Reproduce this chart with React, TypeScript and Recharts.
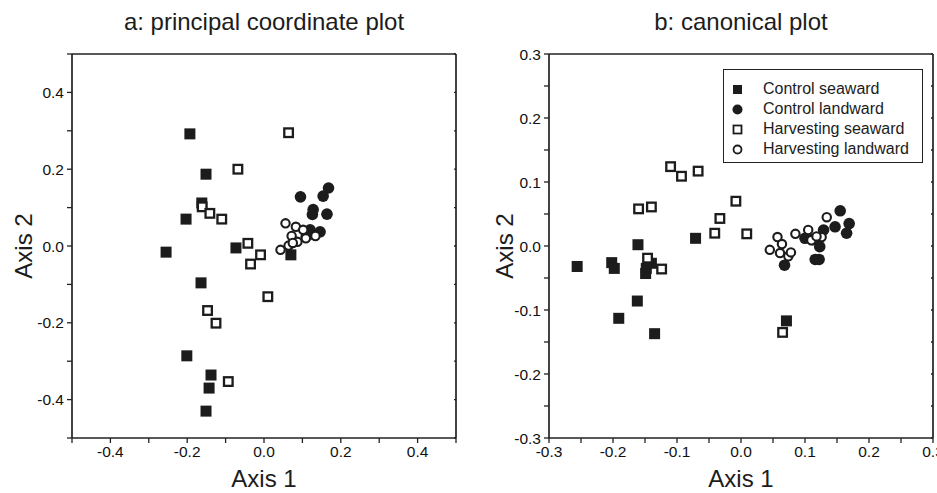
import React from 'react';
import { ScatterChart, Scatter, XAxis, YAxis, Legend, Label } from 'recharts';

const FONT = '"Liberation Sans", Arial, Helvetica, sans-serif';
const INK = '#1c1c1c';
const AXIS = '#222';

// ---------- Panel a: principal coordinate plot ----------
const A_CS_X = [-0.193, -0.151, -0.162, -0.203, -0.255, -0.073, 0.070, -0.164, -0.201, -0.138, -0.143, -0.151];
const A_CS_Y = [0.292, 0.187, 0.112, 0.070, -0.016, -0.005, -0.023, -0.096, -0.286, -0.336, -0.370, -0.430];
const A_CL_X = [0.095, 0.168, 0.154, 0.128, 0.126, 0.164, 0.146, 0.120, 0.110, 0.130];
const A_CL_Y = [0.128, 0.151, 0.130, 0.095, 0.082, 0.083, 0.037, 0.042, 0.025, 0.030];
const A_HS_X = [0.064, -0.068, -0.161, -0.141, -0.110, -0.042, -0.009, -0.035, 0.010, -0.147, -0.125, -0.093];
const A_HS_Y = [0.295, 0.200, 0.102, 0.085, 0.070, 0.007, -0.023, -0.047, -0.132, -0.168, -0.201, -0.353];
const A_HL_X = [0.056, 0.083, 0.072, 0.043, 0.064, 0.109, 0.134, 0.087, 0.102, 0.075];
const A_HL_Y = [0.059, 0.050, 0.026, -0.010, 0.001, 0.020, 0.026, 0.011, 0.042, 0.008];

// ---------- Panel b: canonical plot ----------
const B_CS_X = [-0.256, -0.202, -0.198, -0.161, -0.148, -0.140, -0.149, -0.162, -0.191, -0.135, -0.071, 0.071];
const B_CS_Y = [-0.032, -0.026, -0.035, 0.002, -0.035, -0.027, -0.043, -0.086, -0.113, -0.137, 0.012, -0.117];
const B_CL_X = [0.155, 0.147, 0.169, 0.165, 0.129, 0.123, 0.116, 0.122, 0.068, 0.100, 0.112];
const B_CL_Y = [0.055, 0.030, 0.035, 0.020, 0.025, -0.001, -0.021, -0.021, -0.030, 0.012, 0.010];
const B_HS_X = [-0.110, -0.093, -0.067, -0.160, -0.140, -0.008, -0.033, -0.041, 0.009, -0.146, -0.124, 0.065];
const B_HS_Y = [0.124, 0.109, 0.117, 0.058, 0.061, 0.070, 0.043, 0.020, 0.019, -0.019, -0.036, -0.135];
const B_HL_X = [0.134, 0.085, 0.105, 0.126, 0.110, 0.057, 0.064, 0.045, 0.061, 0.074, 0.078, 0.118];
const B_HL_Y = [0.045, 0.019, 0.025, 0.014, 0.009, 0.014, 0.003, -0.006, -0.011, -0.016, -0.010, 0.015];

// ---------- Ticks ----------
const A_TICKS = [-0.5, -0.4, -0.3, -0.2, -0.1, 0, 0.1, 0.2, 0.3, 0.4, 0.5];
const A_LABELS = [-0.4, -0.2, 0, 0.2, 0.4];
const A_DOMAIN = [-0.5, 0.5];
const B_TICKS = [-0.3, -0.25, -0.2, -0.15, -0.1, -0.05, 0, 0.05, 0.1, 0.15, 0.2, 0.25, 0.3];
const B_LABELS = [-0.3, -0.2, -0.1, 0, 0.1, 0.2, 0.3];
const B_DOMAIN = [-0.3, 0.3];

const TITLES = ['a: principal coordinate plot', 'b: canonical plot'];
const X_LABEL = 'Axis 1';
const Y_LABEL = 'Axis 2';
const SERIES_NAMES = ['Control seaward', 'Control landward', 'Harvesting seaward', 'Harvesting landward'];

const zip = (xs: number[], ys: number[]) => xs.map((x, i) => ({ x, y: ys[i] }));

const fmt = (labels: number[]) => (v: number) =>
  labels.some((l) => Math.abs(l - v) < 1e-9) ? (Math.abs(v) < 1e-9 ? '0.0' : v.toFixed(1)) : '';

// ---------- Marker shapes ----------
const FilledSquare = (p: any) => {
  if (p.cx == null) return null;
  return <rect x={p.cx - 5.5} y={p.cy - 5.5} width={11} height={11} fill={INK} />;
};
const OpenSquare = (p: any) => {
  if (p.cx == null) return null;
  return <rect x={p.cx - 4.3} y={p.cy - 4.3} width={8.6} height={8.6} fill="#fff" stroke={INK} strokeWidth={2.3} />;
};
const FilledCircle = (p: any) => {
  if (p.cx == null) return null;
  return <circle cx={p.cx} cy={p.cy} r={5.8} fill={INK} />;
};
const OpenCircle = (p: any) => {
  if (p.cx == null) return null;
  return <circle cx={p.cx} cy={p.cy} r={4.2} fill="#fff" stroke={INK} strokeWidth={2.1} />;
};

const LegendSymbol = ({ i }: { i: number }) => {
  if (i === 0) return <rect x={9} y={6} width={9} height={9} fill={INK} />;
  if (i === 1) return <circle cx={13.5} cy={10.5} r={5} fill={INK} />;
  if (i === 2) return <rect x={9.5} y={6.5} width={8} height={8} fill="#fff" stroke={INK} strokeWidth={1.8} />;
  return <circle cx={13.5} cy={10.5} r={4} fill="#fff" stroke={INK} strokeWidth={1.8} />;
};

const LegendBox = () => (
  <div
    style={{
      border: '1px solid #222',
      width: 200,
      height: 94,
      boxSizing: 'border-box',
      background: '#fff',
      fontFamily: FONT,
      fontSize: 16,
      color: INK,
      paddingTop: 9,
    }}
  >
    {SERIES_NAMES.map((lab, i) => (
      <div key={lab} style={{ display: 'flex', alignItems: 'center', height: 20, lineHeight: '20px' }}>
        <svg width={39} height={20} style={{ display: 'block' }}>
          <LegendSymbol i={i} />
        </svg>
        <span>{lab}</span>
      </div>
    ))}
  </div>
);

const tickStyle = { fontFamily: FONT, fontSize: 15.5, fill: '#111' };

type PanelProps = {
  left: number;
  width: number;
  yAxisWidth: number;
  rightMargin: number;
  title: string;
  ticks: number[];
  labels: number[];
  domain: number[];
  cs: { x: number; y: number }[];
  cl: { x: number; y: number }[];
  hs: { x: number; y: number }[];
  hl: { x: number; y: number }[];
  yLabelOffset: number;
  legend?: boolean;
};

const Panel = (p: PanelProps) => {
  const f = fmt(p.labels);
  return (
    <div style={{ position: 'absolute', left: p.left, top: 0 }}>
      <ScatterChart width={p.width} height={493} margin={{ top: 54, right: p.rightMargin, bottom: 0, left: 0 }}>
        <XAxis
          xAxisId="b"
          dataKey="x"
          type="number"
          domain={p.domain}
          allowDataOverflow
          ticks={p.ticks}
          interval={0}
          tickFormatter={f}
          height={55}
          tickSize={5}
          tickMargin={3}
          stroke="#111"
          tick={tickStyle}
          axisLine={{ stroke: AXIS, strokeWidth: 1.7 }}
          tickLine={{ stroke: AXIS, strokeWidth: 1.3 }}
          label={
            <Label
              content={(lp: any) => {
                const vb = lp.viewBox || { x: 0, y: 0, width: 0 };
                return (
                  <text x={vb.x + vb.width / 2} y={vb.y + 49} textAnchor="middle" fontFamily={FONT} fontSize={24} fill={INK}>
                    {X_LABEL}
                  </text>
                );
              }}
            />
          }
        />
        <XAxis
          xAxisId="t"
          orientation="top"
          mirror
          type="number"
          domain={p.domain}
          allowDataOverflow
          ticks={p.ticks}
          interval={0}
          tickFormatter={() => ''}
          height={1}
          tickSize={2}
          stroke="#111"
          axisLine={{ stroke: AXIS, strokeWidth: 1.7 }}
          tickLine={{ stroke: AXIS, strokeWidth: 1.3 }}
          label={
            <Label
              content={(lp: any) => {
                const vb = lp.viewBox || { x: 0, y: 0, width: 0 };
                return (
                  <text x={vb.x + vb.width / 2} y={30} textAnchor="middle" fontFamily={FONT} fontSize={24} fill={INK}>
                    {p.title}
                  </text>
                );
              }}
            />
          }
        />
        <YAxis
          yAxisId="l"
          dataKey="y"
          type="number"
          domain={p.domain}
          allowDataOverflow
          ticks={p.ticks}
          interval={0}
          tickFormatter={f}
          width={p.yAxisWidth}
          tickSize={5}
          tickMargin={3}
          stroke="#111"
          tick={tickStyle}
          axisLine={{ stroke: AXIS, strokeWidth: 1.7 }}
          tickLine={{ stroke: AXIS, strokeWidth: 1.3 }}
          label={
            <Label
              content={(lp: any) => {
                const vb = lp.viewBox || { x: 0, y: 0, height: 0 };
                const x = vb.x + p.yLabelOffset;
                const y = vb.y + vb.height / 2;
                return (
                  <text x={x} y={y} transform={`rotate(-90 ${x} ${y})`} textAnchor="middle" fontFamily={FONT} fontSize={24} fill={INK}>
                    {Y_LABEL}
                  </text>
                );
              }}
            />
          }
        />
        <YAxis
          yAxisId="r"
          orientation="right"
          mirror
          type="number"
          domain={p.domain}
          allowDataOverflow
          ticks={p.ticks}
          interval={0}
          tickFormatter={() => ''}
          width={1}
          tickSize={2}
          stroke="#111"
          axisLine={{ stroke: AXIS, strokeWidth: 1.7 }}
          tickLine={{ stroke: AXIS, strokeWidth: 1.3 }}
        />
        <Scatter name={SERIES_NAMES[0]} data={p.cs} xAxisId="b" yAxisId="l" shape={FilledSquare} isAnimationActive={false} />
        <Scatter name={SERIES_NAMES[1]} data={p.cl} xAxisId="b" yAxisId="l" shape={FilledCircle} isAnimationActive={false} />
        <Scatter name={SERIES_NAMES[2]} data={p.hs} xAxisId="b" yAxisId="l" shape={OpenSquare} isAnimationActive={false} />
        <Scatter name={SERIES_NAMES[3]} data={p.hl} xAxisId="b" yAxisId="l" shape={OpenCircle} isAnimationActive={false} />
        {p.legend && (
          <Legend
            layout="vertical"
            align="center"
            verticalAlign="middle"
            content={() => <LegendBox />}
            wrapperStyle={{ left: 253, top: 69, width: 200, height: 94 }}
          />
        )}
      </ScatterChart>
    </div>
  );
};

export default function App() {
  return (
    <div style={{ position: 'absolute', left: 0, top: 0, width: 937, height: 493, background: '#fff', overflow: 'hidden' }}>
      <Panel
        left={0}
        width={470}
        yAxisWidth={72}
        rightMargin={14}
        title={TITLES[0]}
        ticks={A_TICKS}
        labels={A_LABELS}
        domain={A_DOMAIN}
        cs={zip(A_CS_X, A_CS_Y)}
        cl={zip(A_CL_X, A_CL_Y)}
        hs={zip(A_HS_X, A_HS_Y)}
        hl={zip(A_HL_X, A_HL_Y)}
        yLabelOffset={32}
      />
      <Panel
        left={470}
        width={467}
        yAxisWidth={79}
        rightMargin={4}
        title={TITLES[1]}
        ticks={B_TICKS}
        labels={B_LABELS}
        domain={B_DOMAIN}
        cs={zip(B_CS_X, B_CS_Y)}
        cl={zip(B_CL_X, B_CL_Y)}
        hs={zip(B_HS_X, B_HS_Y)}
        hl={zip(B_HL_X, B_HL_Y)}
        yLabelOffset={43}
        legend
      />
    </div>
  );
}
